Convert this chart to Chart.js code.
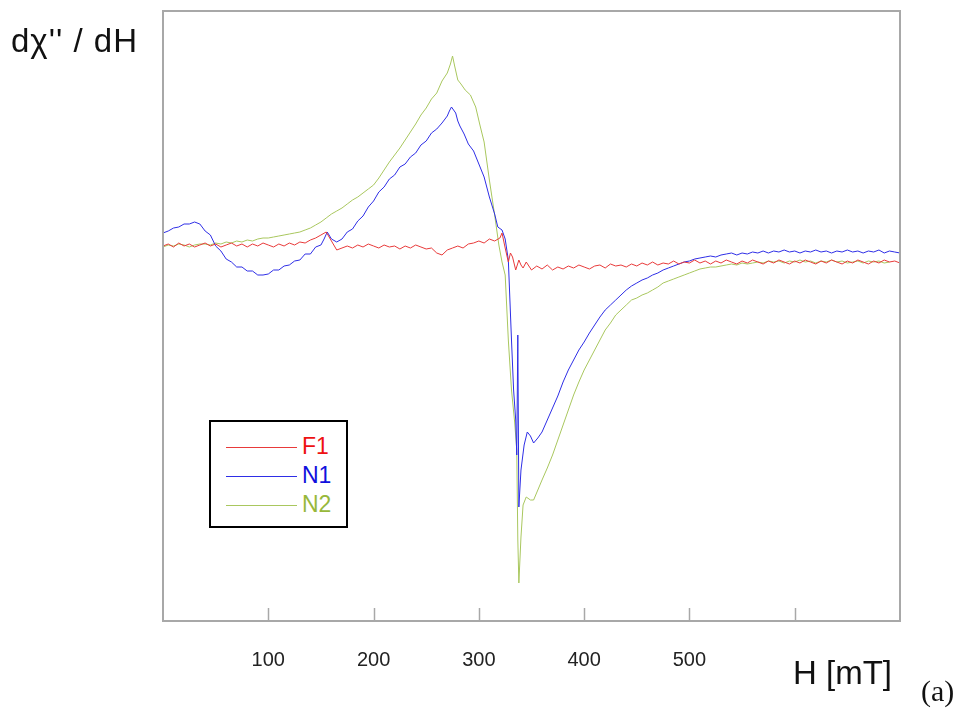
<!DOCTYPE html>
<html>
<head>
<meta charset="utf-8">
<script src="https://cdn.jsdelivr.net/npm/chart.js@4.4.1/dist/chart.umd.min.js"></script>
<style>
  html, body { margin: 0; padding: 0; background: #fff; }
  #wrap { position: relative; width: 965px; height: 709px; overflow: hidden; }
  #c { position: absolute; left: 0; top: 0; }
  .txt { position: absolute; font-family: "Liberation Sans", Arial, sans-serif; color: #111; white-space: nowrap; line-height: 1; }
  #ytitle { left: 11px; top: 24px; font-size: 33px; letter-spacing: 1px; }
  #xtitle { left: 793px; top: 656px; font-size: 33px; }
  #panel { left: 921px; top: 676px; font-size: 30px; font-family: "Liberation Serif", "Times New Roman", serif; }
  #legend { position: absolute; left: 209px; top: 420px; width: 135px; height: 104px; border: 2px solid #000; background: #fff; }
  .row { position: absolute; left: 15px; height: 24px; }
  .row .ln { position: absolute; left: 0; top: 12px; width: 71px; height: 0; border-top: 1px solid; }
  .row .lb { position: absolute; left: 76px; top: 0px; font-family: "Liberation Sans", Arial, sans-serif; font-size: 23px; line-height: 1; }
</style>
</head>
<body>
<div id="wrap">
  <canvas id="c" width="965" height="709"></canvas>
  <div class="txt" id="ytitle">dχ'' / dH</div>
  <div class="txt" id="xtitle">H [mT]</div>
  <div class="txt" id="panel">(a)</div>
  <div id="legend"></div>
</div>
<script>
// ---- data (H in mT, signal in arbitrary units) ----
const xTickValues = [100, 200, 300, 400, 500, 600];
const xTickLabels = ["100", "200", "300", "400", "500", ""];
const seriesNames = ["F1", "N1", "N2"];

const hF1 = [0,5,10,15,20,25,30,35,40,45,50,55,60,65,70,75,80,85,90,95,100,105,110,115,120,125,130,135,140,145,150,155,160,165,170,175,180,185,190,195,200,205,210,215,220,225,230,235,240,245,250,255,260,265,270,275,280,285,290,295,300,305,310,315,320,322,325,328,330,332,335,338,340,342,345,350,355,360,365,370,375,380,385,390,395,400,405,410,415,420,425,430,435,440,445,450,455,460,465,470,475,480,485,490,495,500,505,510,515,520,525,530,535,540,545,550,555,560,565,570,575,580,585,590,595,600,605,610,615,620,625,630,635,640,645,650,655,660,665,670,675,680,685,690,695,700];
const vF1 = [-1,1,-2,2,-1,1,-2,0,2,-1,1,-2,0,2,-1,1,-2,1,-1,2,0,-2,1,-1,2,0,3,2,5,7,10,13,4,-5,-3,-1,-3,0,-2,1,-1,-3,0,-2,-1,-4,-1,-3,0,-2,-4,-3,-8,-10,-5,-3,-1,-3,1,2,4,2,6,4,7,12,-3,-17,-8,-12,-25,-15,-20,-23,-17,-25,-21,-24,-20,-25,-22,-24,-21,-23,-20,-22,-24,-21,-20,-23,-19,-21,-20,-22,-19,-21,-18,-20,-17,-20,-18,-19,-16,-19,-17,-18,-15,-18,-16,-19,-16,-18,-15,-17,-19,-16,-18,-15,-17,-19,-16,-18,-15,-17,-19,-16,-18,-15,-17,-19,-16,-18,-15,-17,-19,-16,-18,-15,-17,-19,-16,-18,-15,-17,-16,-18];

const hN1 = [0,5,10,15,20,25,30,35,40,45,50,55,60,65,70,75,80,85,90,95,100,105,110,115,120,125,130,135,140,145,150,153,156,160,165,170,175,180,185,190,195,200,205,210,215,220,225,230,235,240,245,250,255,260,265,270,272,274,276,278,280,282,286,290,295,300,305,310,315,318,322,325,328,331,333,335,336,337,338,340,343,346,349,352,356,360,365,370,375,380,385,390,395,400,405,410,415,420,425,430,435,440,445,450,455,460,465,470,475,480,485,490,495,500,505,510,515,520,525,530,535,540,545,550,555,560,565,570,575,580,585,590,595,600,605,610,615,620,625,630,635,640,645,650,655,660,665,670,675,680,685,690,695,700];
const vN1 = [12,14,17,18,21,21,23,21,14,10,-1,-6,-14,-17,-22,-22,-26,-26,-30,-30,-29,-25,-25,-21,-20,-16,-15,-9,-9,-2,0,6,13,6,3,6,13,16,24,29,38,44,53,58,66,70,78,81,88,92,100,104,112,116,122,129,134,138,135,132,124,119,111,101,94,81,68,48,31,18,15,6,-15,-95,-145,-175,-210,-90,-262,-225,-200,-187,-191,-198,-193,-187,-175,-163,-151,-137,-125,-115,-105,-97,-88,-80,-72,-65,-60,-55,-50,-45,-41,-38,-35,-33,-30,-28,-25,-23,-21,-19,-17,-16,-14,-13,-12,-11,-12,-10,-9,-8,-10,-8,-9,-7,-8,-6,-8,-6,-7,-5,-7,-6,-8,-6,-7,-5,-7,-6,-8,-6,-7,-5,-7,-6,-8,-6,-7,-5,-8,-6,-7,-8];

const hN2 = [0,5,10,15,20,25,30,35,40,45,50,55,60,65,70,75,80,85,90,95,100,105,110,115,120,125,130,135,140,145,150,155,160,165,170,175,180,185,190,195,200,205,210,215,220,225,230,235,240,245,250,255,260,265,270,273,275,277,280,283,287,292,297,301,305,310,315,319,322,325,328,331,334,336,337,338,340,342,345,349,352,356,360,365,370,375,380,385,390,395,400,405,410,415,420,425,430,435,440,445,450,455,460,465,470,475,480,485,490,495,500,505,510,515,520,525,530,535,540,545,550,555,560,565,570,575,580,585,590,595,600,605,610,615,620,625,630,635,640,645,650,655,660,665,670,675,680,685,690,695,700];
const vN2 = [-2,0,-1,1,0,-2,0,1,1,0,2,1,3,2,4,3,5,4,6,7,7,8,9,10,11,12,13,15,17,20,23,27,31,34,37,41,45,48,52,56,60,67,75,83,90,97,105,113,121,130,137,146,152,164,172,181,189,179,165,161,155,150,138,120,103,65,30,0,-17,-30,-95,-145,-177,-205,-295,-338,-292,-260,-252,-255,-255,-245,-235,-223,-210,-195,-180,-165,-150,-137,-125,-115,-105,-95,-85,-78,-70,-65,-60,-55,-53,-50,-48,-45,-42,-38,-36,-34,-32,-30,-28,-26,-24,-23,-22,-22,-21,-20,-19,-20,-18,-19,-18,-17,-18,-16,-17,-16,-18,-16,-17,-15,-17,-16,-18,-16,-17,-15,-17,-16,-18,-17,-16,-18,-16,-17,-16,-18,-17];

const lineColors = ["#e83a3a", "#2e2ee6", "#a9c75e"];
const textColors = ["#ee1111", "#1010dd", "#97b83a"];

// ---- build ----
function pts(h, v) { return h.map((x, i) => ({ x: x, y: v[i] })); }
const allH = [hF1, hN1, hN2];
const allV = [vF1, vN1, vN2];

const legend = document.getElementById('legend');
seriesNames.forEach((n, i) => {
  const r = document.createElement('div');
  r.className = 'row';
  r.style.top = (13 + i * 29) + 'px';
  r.innerHTML = '<div class="ln" style="border-color:' + lineColors[i] + '"></div><div class="lb" style="color:' + textColors[i] + '">' + n + '</div>';
  legend.appendChild(r);
});

const framePlugin = {
  id: 'frame',
  afterDatasetsDraw(chart) {
    const { ctx, chartArea: a, scales: { x } } = chart;
    ctx.save();
    ctx.strokeStyle = '#a8a8a8';
    ctx.lineWidth = 2;
    ctx.strokeRect(a.left, a.top, a.right - a.left, a.bottom - a.top);
    ctx.lineWidth = 1.5;
    xTickValues.forEach(v => {
      const px = Math.round(x.getPixelForValue(v)) + 0.5;
      ctx.beginPath();
      ctx.moveTo(px, a.bottom);
      ctx.lineTo(px, a.bottom - 13);
      ctx.stroke();
    });
    ctx.restore();
  }
};

new Chart(document.getElementById('c'), {
  type: 'line',
  data: {
    datasets: seriesNames.map((n, i) => ({
      label: n,
      data: pts(allH[i], allV[i]),
      borderColor: lineColors[i],
      borderWidth: 1,
      pointRadius: 0,
      tension: 0,
      fill: false,
      order: i
    }))
  },
  options: {
    responsive: false,
    devicePixelRatio: 1,
    animation: false,
    layout: { padding: { left: 163, top: 11, right: 65, bottom: 10 } },
    plugins: { legend: { display: false }, tooltip: { enabled: false } },
    scales: {
      x: {
        type: 'linear', min: 0, max: 700,
        grid: { display: false, drawTicks: false },
        border: { display: false },
        afterBuildTicks: (s) => { s.ticks = xTickValues.map(v => ({ value: v })); },
        ticks: {
          padding: 27,
          color: '#222',
          font: { family: 'Liberation Sans', size: 20 },
          callback: (v) => { const i = xTickValues.indexOf(v); return i >= 0 ? xTickLabels[i] : ''; },
          maxRotation: 0, autoSkip: false
        }
      },
      y: { display: false, min: -376, max: 234 }
    }
  },
  plugins: [framePlugin]
});
</script>
</body>
</html>
